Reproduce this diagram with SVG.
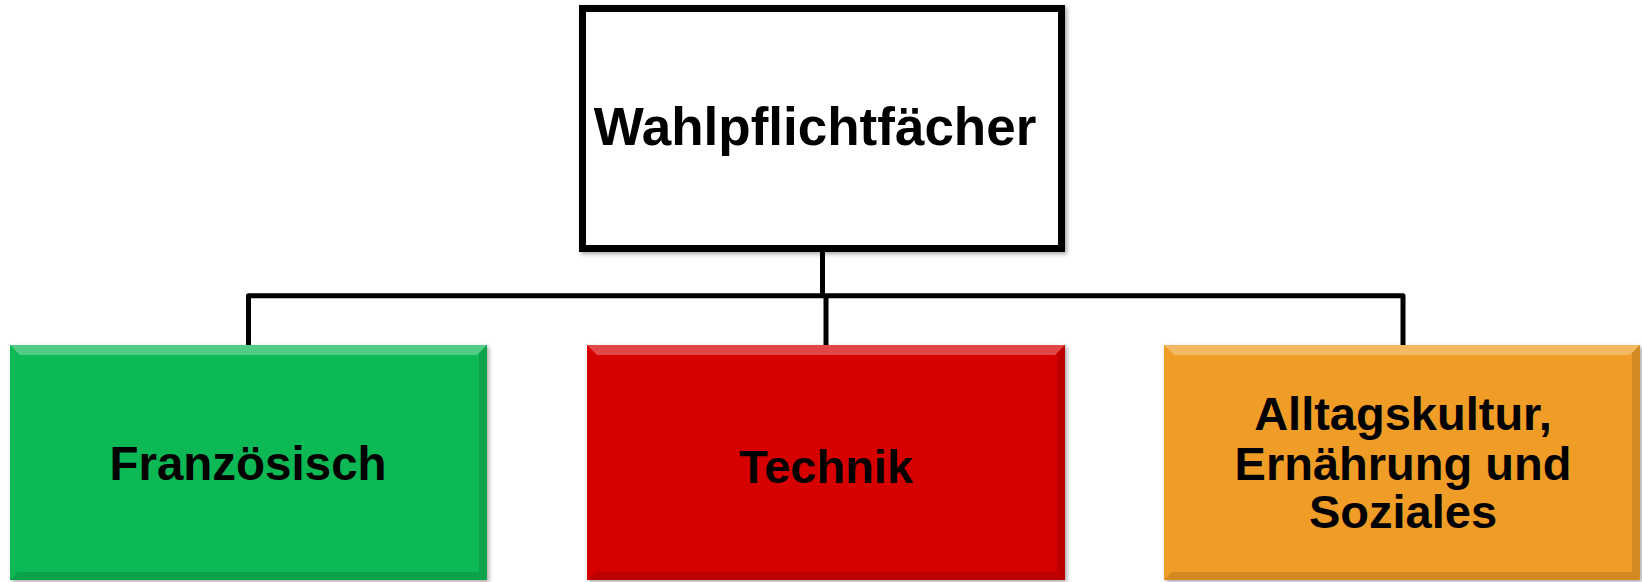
<svg xmlns="http://www.w3.org/2000/svg" width="1642" height="582" viewBox="0 0 1642 582">
<defs>
<style>
.lbl{font-family:"Liberation Sans",Arial,sans-serif;font-weight:bold;fill:#000;text-anchor:middle}
.conn{fill:none;stroke:#000;stroke-width:5;stroke-linejoin:round}
.hl{fill:#fff;opacity:0.28}
.dk{fill:#000;opacity:0.12}
</style>
<filter id="sh" x="-5%" y="-5%" width="110%" height="110%">
<feDropShadow dx="2" dy="2" stdDeviation="2" flood-color="#000" flood-opacity="0.35"/>
</filter>
</defs>
<rect width="1642" height="582" fill="#fff"/>
<g id="connectors">
<path class="conn" d="M822.5 252 V295.8"/>
<path class="conn" d="M248.5 345 V295.8 H1403 V345"/>
<path class="conn" d="M826 295.8 V345"/>
</g>
<g id="node-wahlpflicht">
<rect x="582.5" y="8.5" width="479" height="240" fill="#fff" stroke="#000" stroke-width="7" filter="url(#sh)"/>
<text class="lbl" x="815" y="145" font-size="53">Wahlpflichtfächer</text>
</g>
<g id="node-franzoesisch">
<rect x="10" y="345" width="477" height="235" fill="#07B955" filter="url(#sh)"/>
<polygon class="hl" points="10,345 487,345 477,355 20,355"/>
<polygon class="dk" points="487,345 487,580 479,572 479,353"/>
<polygon class="dk" points="10,580 487,580 479,572 18,572"/>
<text class="lbl" x="248" y="480" font-size="47.5">Französisch</text>
</g>
<g id="node-technik">
<rect x="587" y="345" width="478" height="235" fill="#D70606" filter="url(#sh)"/>
<polygon class="hl" points="587,345 1065,345 1055,355 597,355"/>
<polygon class="dk" points="1065,345 1065,580 1057,572 1057,353"/>
<polygon class="dk" points="587,580 1065,580 1057,572 595,572"/>
<text class="lbl" x="826" y="483" font-size="47">Technik</text>
</g>
<g id="node-alltagskultur">
<rect x="1164" y="345" width="476" height="235" fill="#EF9D25" filter="url(#sh)"/>
<polygon class="hl" points="1164,345 1640,345 1630,355 1174,355"/>
<polygon class="dk" points="1640,345 1640,580 1632,572 1632,353"/>
<polygon class="dk" points="1164,580 1640,580 1632,572 1172,572"/>
<text class="lbl" font-size="47"><tspan x="1403" y="430">Alltagskultur,</tspan><tspan x="1403" y="480">Ernährung und</tspan><tspan x="1403" y="528">Soziales</tspan></text>
</g>
</svg>
